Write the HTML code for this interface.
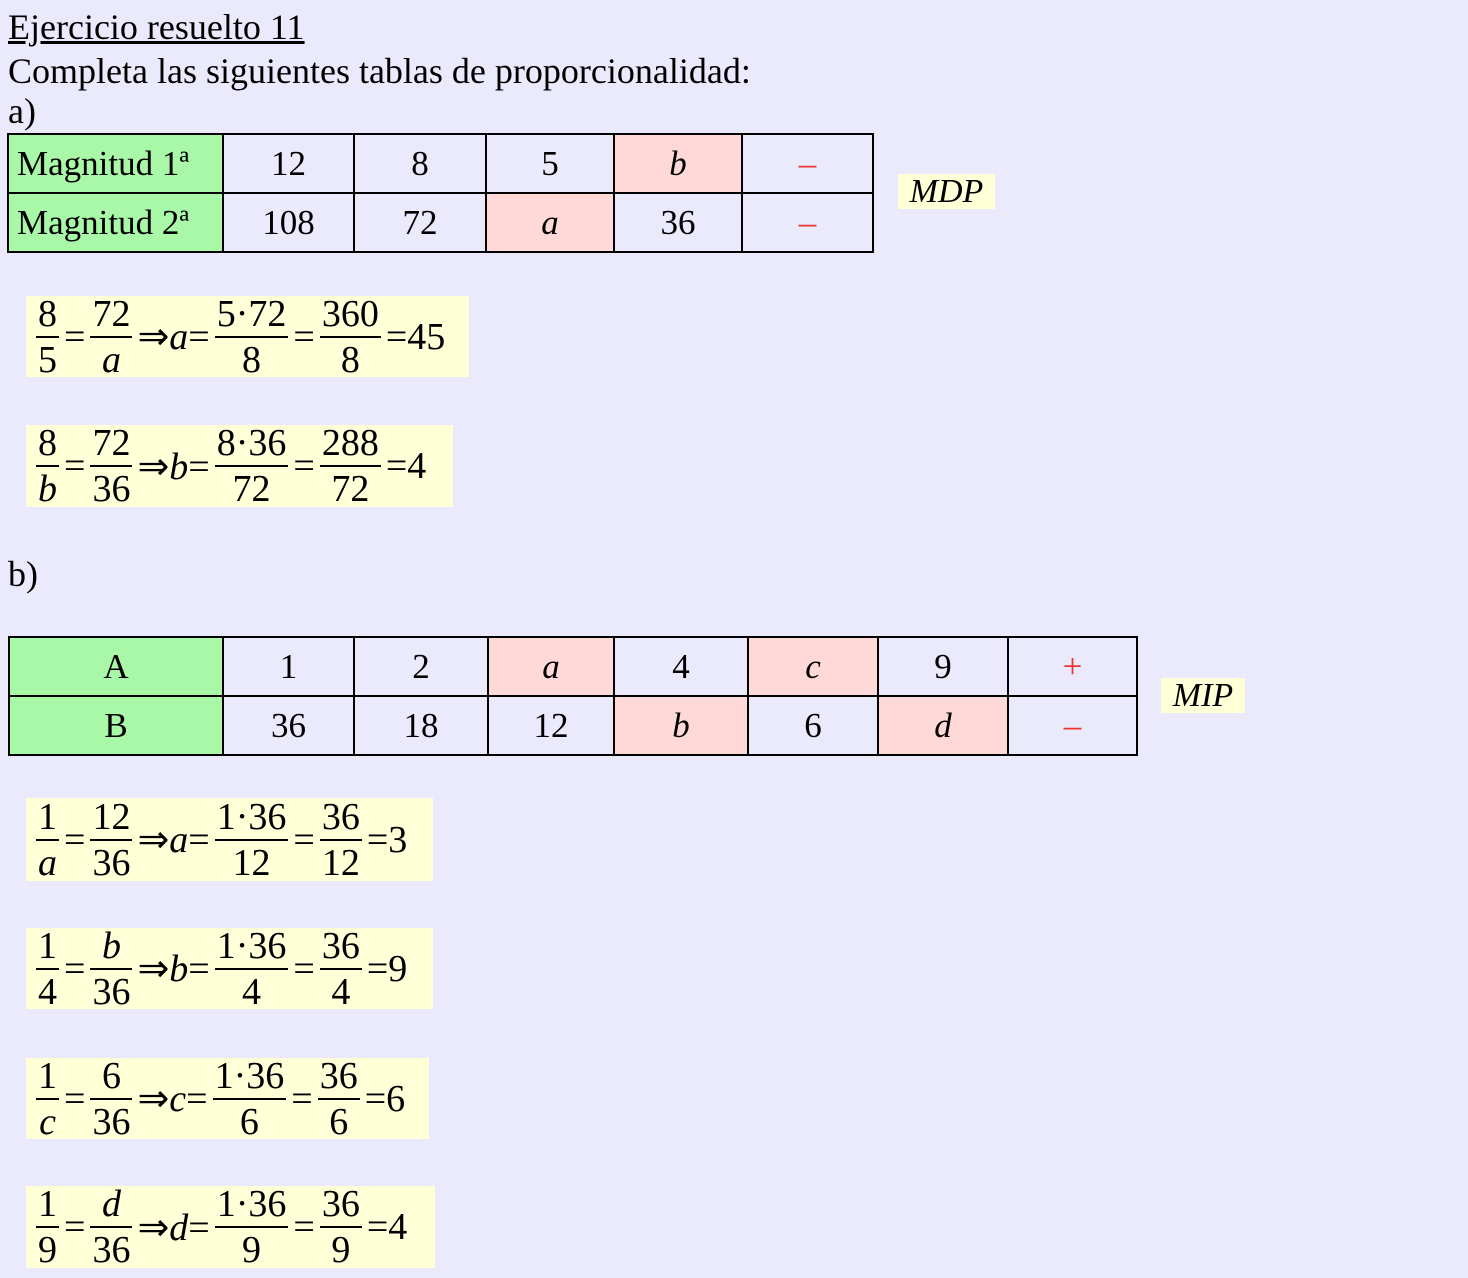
<!DOCTYPE html>
<html><head><meta charset="utf-8"><style>
body{margin:0;width:1468px;height:1278px;background:#eaeafc;font-family:"Liberation Serif",serif;color:#000;position:relative;overflow:hidden}
.t{position:absolute;font-size:36px;line-height:38px;white-space:nowrap}
table{position:absolute;border-collapse:collapse;font-size:35px;table-layout:fixed}
td{border:2px solid #000;text-align:center;padding:0;height:57px;white-space:nowrap}
.g{background:#a8f8a8}.p{background:#ffd8d8}
.r{color:#e33}
.lab{position:absolute;background:#ffffd8;font-size:34px;font-style:italic;line-height:35px;text-align:center}
.f{position:absolute;background:#ffffd8;display:flex;align-items:center;padding-left:10px;font-size:38px;box-sizing:border-box;white-space:nowrap}
.fr{display:inline-flex;flex-direction:column;align-items:stretch;text-align:center;line-height:44px}
.fr span{padding:0 2px}
.fr span:last-child{border-top:2px solid #000}
i{font-style:italic}
.o{padding:0 5px}
</style></head><body>
<div class="t" style="left:8px;top:8px;text-decoration:underline">Ejercicio resuelto 11</div>
<div class="t" style="left:8px;top:52px">Completa las siguientes tablas de proporcionalidad:</div>
<div class="t" style="left:8px;top:92px">a)</div>
<table style="left:7px;top:133px;width:865px">
<colgroup><col style="width:215px"><col style="width:131px"><col style="width:132px"><col style="width:128px"><col style="width:128px"><col style="width:131px"></colgroup>
<tr><td class="g" style="text-align:left;padding-left:8px">Magnitud 1ª</td><td>12</td><td>8</td><td>5</td><td class="p"><i>b</i></td><td class="r">–</td></tr>
<tr><td class="g" style="text-align:left;padding-left:8px">Magnitud 2ª</td><td>108</td><td>72</td><td class="p"><i>a</i></td><td>36</td><td class="r">–</td></tr>
</table>
<div class="lab" style="left:898px;top:174px;width:97px">MDP</div>

<div class="f" style="left:26px;top:296px;width:443px;height:81px"><span class="fr"><span>8</span><span>5</span></span><span class="o">=</span><span class="fr"><span>72</span><span><i>a</i></span></span><span class="o">⇒<i>a</i>=</span><span class="fr"><span>5·72</span><span>8</span></span><span class="o">=</span><span class="fr"><span>360</span><span>8</span></span><span class="o">=45</span></div>
<div class="f" style="left:26px;top:425px;width:427px;height:82px"><span class="fr"><span>8</span><span><i>b</i></span></span><span class="o">=</span><span class="fr"><span>72</span><span>36</span></span><span class="o">⇒<i>b</i>=</span><span class="fr"><span>8·36</span><span>72</span></span><span class="o">=</span><span class="fr"><span>288</span><span>72</span></span><span class="o">=4</span></div>

<div class="t" style="left:8px;top:555px">b)</div>
<table style="left:8px;top:636px;width:1128px">
<colgroup><col style="width:214px"><col style="width:131px"><col style="width:134px"><col style="width:126px"><col style="width:134px"><col style="width:130px"><col style="width:130px"><col style="width:129px"></colgroup>
<tr><td class="g">A</td><td>1</td><td>2</td><td class="p"><i>a</i></td><td>4</td><td class="p"><i>c</i></td><td>9</td><td class="r">+</td></tr>
<tr><td class="g">B</td><td>36</td><td>18</td><td>12</td><td class="p"><i>b</i></td><td>6</td><td class="p"><i>d</i></td><td class="r">–</td></tr>
</table>
<div class="lab" style="left:1161px;top:678px;width:84px">MIP</div>

<div class="f" style="left:26px;top:798px;width:407px;height:83px"><span class="fr"><span>1</span><span><i>a</i></span></span><span class="o">=</span><span class="fr"><span>12</span><span>36</span></span><span class="o">⇒<i>a</i>=</span><span class="fr"><span>1·36</span><span>12</span></span><span class="o">=</span><span class="fr"><span>36</span><span>12</span></span><span class="o">=3</span></div>
<div class="f" style="left:26px;top:928px;width:407px;height:81px"><span class="fr"><span>1</span><span>4</span></span><span class="o">=</span><span class="fr"><span><i>b</i></span><span>36</span></span><span class="o">⇒<i>b</i>=</span><span class="fr"><span>1·36</span><span>4</span></span><span class="o">=</span><span class="fr"><span>36</span><span>4</span></span><span class="o">=9</span></div>
<div class="f" style="left:26px;top:1058px;width:403px;height:81px"><span class="fr"><span>1</span><span><i>c</i></span></span><span class="o">=</span><span class="fr"><span>6</span><span>36</span></span><span class="o">⇒<i>c</i>=</span><span class="fr"><span>1·36</span><span>6</span></span><span class="o">=</span><span class="fr"><span>36</span><span>6</span></span><span class="o">=6</span></div>
<div class="f" style="left:26px;top:1186px;width:409px;height:82px"><span class="fr"><span>1</span><span>9</span></span><span class="o">=</span><span class="fr"><span><i>d</i></span><span>36</span></span><span class="o">⇒<i>d</i>=</span><span class="fr"><span>1·36</span><span>9</span></span><span class="o">=</span><span class="fr"><span>36</span><span>9</span></span><span class="o">=4</span></div>
</body></html>
